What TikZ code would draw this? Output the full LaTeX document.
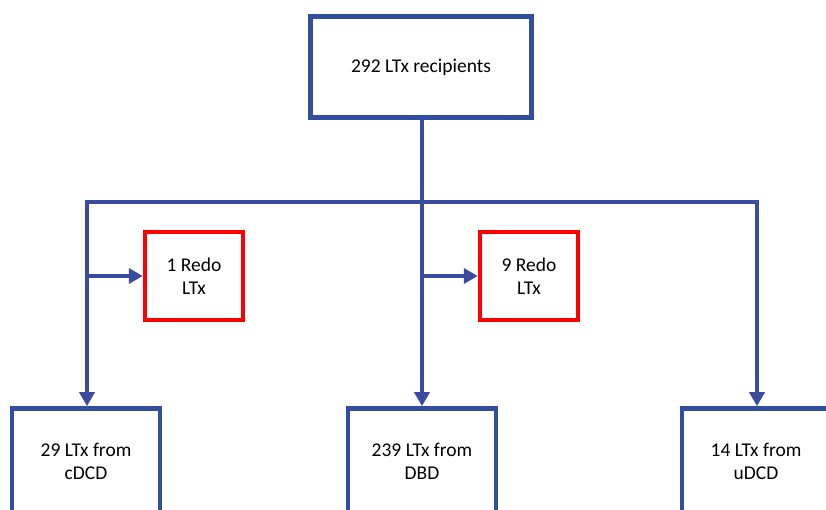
\documentclass[tikz,border=0pt]{standalone}
\usepackage{fontspec}
\setmainfont{Carlito}
\usetikzlibrary{arrows.meta}
\definecolor{boxblue}{HTML}{2F4F9E}
\definecolor{linkblue}{HTML}{3A4BA0}
\definecolor{redo}{HTML}{FF0000}
\tikzset{
  box/.style={draw=boxblue, line width=4.6pt, fill=white, rectangle, align=center,
    font=\fontsize{19.5}{23}\selectfont, inner sep=0pt},
  redbox/.style={draw=redo, line width=4.4pt, fill=white, rectangle, align=center,
    font=\fontsize{19.5}{23}\selectfont, inner sep=0pt, minimum width=98pt, minimum height=88pt},
  link/.style={draw=linkblue, line width=4pt, line join=miter},
  tip/.style={-{Triangle[length=14pt,width=15pt]}},
}
\begin{document}
\begin{tikzpicture}[x=1pt,y=-1pt]
\useasboundingbox (0,0) rectangle (826,510);
\clip (0,0) rectangle (826,510);
\node[box, minimum width=221pt, minimum height=101pt] (top) at (421,67) {292 LTx recipients};
\node[redbox] (r1) at (194,276) {1 Redo\\LTx};
\node[redbox] (r2) at (529,276) {9 Redo\\LTx};
\node[box, minimum width=148pt, minimum height=106pt] (b1) at (86,461.5) {29 LTx from\\cDCD};
\node[box, minimum width=148pt, minimum height=106pt] (b2) at (422,461.5) {239 LTx from\\DBD};
\node[box, minimum width=148pt, minimum height=106pt] (b3) at (756,461.5) {14 LTx from\\uDCD};
\coordinate (hl) at (87,202);
\coordinate (hr) at (757,202);
\coordinate (hm) at (422,202);
\coordinate (al) at (87,276);
\coordinate (am) at (422,276);
\draw[link, {Triangle[length=14pt,width=15pt]}-{Triangle[length=14pt,width=15pt]}]
  (hl |- b1.north) -- (hl) -- (hr) -- (hr |- b3.north);
\draw[link, tip] (hm |- top.south) -- (hm |- b2.north);
\draw[link, tip] (al) -- (al -| r1.west);
\draw[link, tip] (am) -- (am -| r2.west);
\end{tikzpicture}
\end{document}
